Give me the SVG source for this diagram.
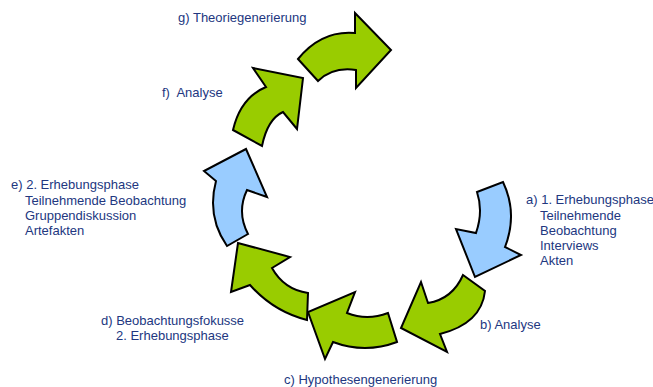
<svg xmlns="http://www.w3.org/2000/svg" width="653" height="387" viewBox="0 0 653 387">
<style>
.g{fill:#99cc00;stroke:#000;stroke-width:2;stroke-linejoin:miter}
.b{fill:#99ccff;stroke:#000;stroke-width:2;stroke-linejoin:miter}
text{font-family:"Liberation Sans",Arial,sans-serif;font-size:13px;fill:#22377f;white-space:pre}
</style>
<rect width="653" height="387" fill="#fff"/>
<g id="connectors">
<path id="arrow-a" class="b" d="M477,192 L503,182 Q518,213.5 505,247 L521,255 L475,277 L456,229 L476,233 Q483.5,211.5 477,192 Z"/>
<path id="arrow-b" class="g" d="M463,275 L485,291 Q481.5,323.5 440,334 L447,352 L401,328 L421,282 L428,303 Q452.5,299 463,275 Z"/>
<path id="arrow-c" class="g" d="M388,313 L397,342 Q365,354 333,342 L325,359 L308,312 L355,292 L347,313 Q367,321 388,313 Z"/>
<path id="arrow-d" class="g" d="M308,293 L307,320 Q273.5,311.5 250,285 L231,292 L238,243 L290,257 L272,268 Q284,289.5 308,293 Z"/>
<path id="arrow-e" class="b" d="M248,234 L227,246 Q206.5,216.5 216,181 L204,171 L246,149 L267,197 L247,190 Q236.5,212 248,234 Z"/>
<path id="arrow-f" class="g" d="M233,130 L262,146 Q267.5,119 283,112 L297,129 L303,78 L253,68 L266,87 Q240.5,97.5 233,130 Z"/>
<path id="arrow-g" class="g" d="M298,59 L318,81 Q333,66.5 356,70 L356,88 L391,50 L355,13 L355,33 Q321.5,30 298,59 Z"/>
</g>
<g id="node-a"><text x="526" y="204">a) 1. Erhebungsphase</text><text x="540" y="220">Teilnehmende</text><text x="540" y="235">Beobachtung</text><text x="540" y="250">Interviews</text><text x="540" y="265">Akten</text></g>
<g id="node-b"><text x="480" y="329">b) Analyse</text></g>
<g id="node-c"><text x="284" y="384">c) Hypothesengenerierung</text></g>
<g id="node-d"><text x="101" y="325">d) Beobachtungsfokusse</text><text x="116" y="340">2. Erhebungsphase</text></g>
<g id="node-e"><text x="11" y="189">e) 2. Erhebungsphase</text><text x="25" y="205">Teilnehmende Beobachtung</text><text x="25" y="220">Gruppendiskussion</text><text x="25" y="235">Artefakten</text></g>
<g id="node-f"><text x="162" y="97">f)  Analyse</text></g>
<g id="node-g"><text x="178" y="22">g) Theoriegenerierung</text></g>
</svg>
